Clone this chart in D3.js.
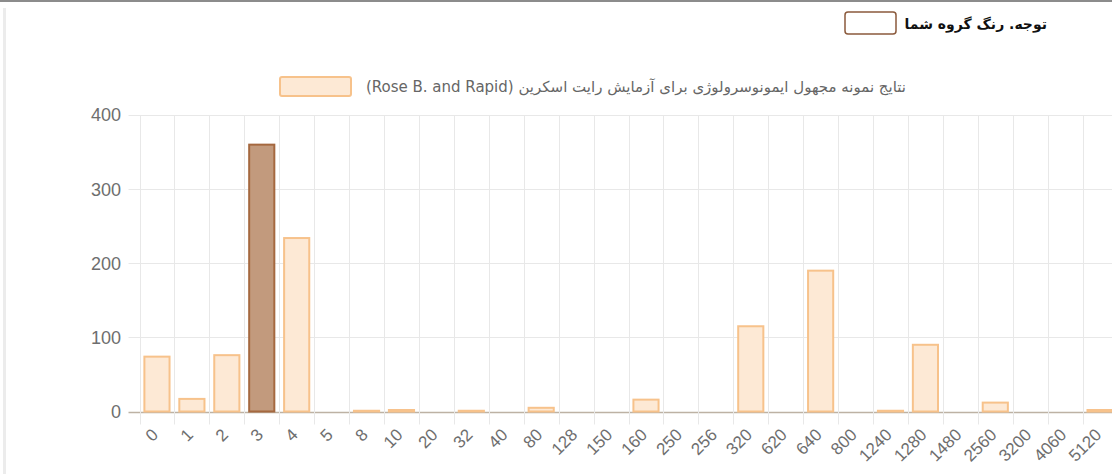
<!DOCTYPE html>
<html>
<head>
<meta charset="utf-8">
<script src="https://cdn.jsdelivr.net/npm/d3@7"></script>
<style>
  html, body { margin: 0; padding: 0; background: #fff; }
  svg { display: block; }
</style>
</head>
<body>
<svg id="chart" width="1112" height="474"></svg>
<script>
// ---- data ----
const categories = ["0","1","2","3","4","5","8","10","20","32","40","80","128","150","160","250","256","320","620","640","800","1240","1280","1480","2560","3200","4060","5120"];
const counts = [74, 17, 76, 360, 234, 0, 1, 2, 0, 1, 0, 5, 0, 0, 16, 0, 0, 115, 0, 190, 0, 1, 90, 0, 12, 0, 0, 2];
const highlightCategory = "3";
const yTicks = [0, 100, 200, 300, 400];
const legendTitle = "نتایج نمونه مجهول ایمونوسرولوژی برای آزمایش رایت اسکرین (Rose B. and Rapid)";
const noteTitle = "توجه. رنگ گروه شما";

// ---- layout ----
const svg = d3.select("#chart");
const plotLeft = 139.5, step = 34.93;
const plotRight = plotLeft + categories.length * step;
const plotTop = 115, plotBottom = 411.5;

const x = d3.scaleBand().domain(categories).range([plotLeft, plotRight]).padding(0);
const y = d3.scaleLinear().domain([0, 400]).range([plotBottom, plotTop]);

// frame lines
svg.append("rect").attr("x", 0).attr("y", 0).attr("width", 1112).attr("height", 2).attr("fill", "#8c8c8c");
svg.append("rect").attr("x", 3).attr("y", 8).attr("width", 3).attr("height", 466).attr("fill", "#ececec");

// horizontal gridlines
svg.append("g").selectAll("line").data(yTicks).join("line")
  .attr("x1", plotLeft - 11).attr("x2", 1112)
  .attr("y1", d => Math.round(y(d)) + 0.5).attr("y2", d => Math.round(y(d)) + 0.5)
  .attr("stroke", d => d === 0 ? "#bdb2a4" : "#e8e8e8").attr("stroke-width", d => d === 0 ? 1.5 : 1);

// vertical gridlines at category boundaries
const bounds = categories.map(c => x(c)).concat([plotRight]);
svg.append("g").selectAll("line").data(bounds).join("line")
  .attr("x1", d => Math.round(d) + 0.5).attr("x2", d => Math.round(d) + 0.5)
  .attr("y1", plotTop).attr("y2", plotBottom + 13)
  .attr("stroke", "#e8e8e8").attr("stroke-width", 1);

// y labels
svg.append("g").selectAll("text").data(yTicks).join("text")
  .attr("x", 121).attr("y", d => y(d)).attr("dy", "0.36em")
  .attr("text-anchor", "end")
  .attr("font-family", "Liberation Sans, Arial, sans-serif").attr("font-size", 18)
  .attr("fill", "#6e6e6e").text(d => d);

// bars (zero-height bars draw nothing)
const barW = x.bandwidth() * 0.72;
svg.append("g").selectAll("rect").data(categories).join("rect")
  .attr("x", c => x(c) + (x.bandwidth() - barW) / 2)
  .attr("width", barW)
  .attr("y", (c, i) => y(counts[i]))
  .attr("height", (c, i) => plotBottom - y(counts[i]))
  .attr("fill", c => c === highlightCategory ? "#c29a7d" : "#fde9d5")
  .attr("stroke", c => c === highlightCategory ? "#a5683f" : "#f7c28b")
  .attr("stroke-width", 2);

// x labels
svg.append("g").selectAll("text").data(categories).join("text")
  .attr("transform", c => `translate(${x(c) + x.bandwidth() / 2 - 2},${plotBottom + 20}) rotate(-45)`)
  .attr("text-anchor", "end").attr("dy", "0.36em")
  .attr("font-family", "Liberation Sans, Arial, sans-serif").attr("font-size", 17)
  .attr("fill", "#6e6e6e").text(c => c);

// chart legend
svg.append("rect").attr("x", 280).attr("y", 77).attr("width", 71).attr("height", 19).attr("rx", 2)
  .attr("fill", "#fde9d5").attr("stroke", "#f7c28b").attr("stroke-width", 2);
svg.append("text").attr("x", 906).attr("y", 87).attr("dy", "0.35em")
  .attr("direction", "rtl").attr("text-anchor", "start")
  .attr("font-family", "DejaVu Sans, sans-serif").attr("font-size", 15)
  .attr("fill", "#666").text(legendTitle);

// note legend
svg.append("rect").attr("x", 845).attr("y", 12).attr("width", 51).attr("height", 22).attr("rx", 3)
  .attr("fill", "#fff").attr("stroke", "#8b5a3c").attr("stroke-width", 1.5);
svg.append("text").attr("x", 1047).attr("y", 24).attr("dy", "0.35em")
  .attr("direction", "rtl").attr("text-anchor", "start")
  .attr("font-family", "DejaVu Sans, sans-serif").attr("font-size", 14).attr("font-weight", "bold")
  .attr("fill", "#111").text(noteTitle);
</script>
</body>
</html>
